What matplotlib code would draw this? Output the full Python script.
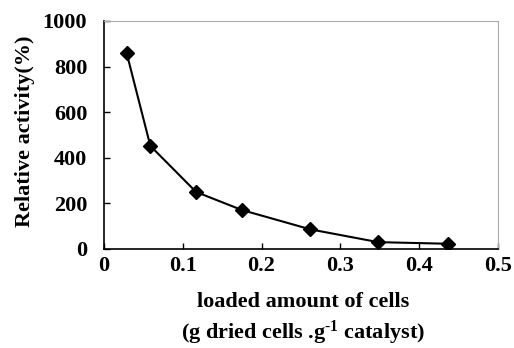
import matplotlib
matplotlib.use("Agg")
import matplotlib.pyplot as plt

loading = [0.029, 0.059, 0.117, 0.175, 0.262, 0.348, 0.436]
activity = [858, 452, 250, 171, 86, 30, 23]
xticks = [0, 0.1, 0.2, 0.3, 0.4, 0.5]
xticklabels = ["0", "0.1", "0.2", "0.3", "0.4", "0.5"]
yticks = [0, 200, 400, 600, 800, 1000]

plt.rcParams['font.family'] = ['Liberation Serif', 'DejaVu Serif']
plt.rcParams['font.weight'] = 'bold'
plt.rcParams['mathtext.fontset'] = 'custom'
plt.rcParams['mathtext.rm'] = 'Liberation Serif:bold'
plt.rcParams['mathtext.bf'] = 'Liberation Serif:bold'
plt.rcParams['mathtext.default'] = 'bf'

FS = 16
fig = plt.figure(figsize=(5.14, 3.48), dpi=100)
ax = fig.add_axes([0.202, 0.2845, 0.767, 0.6555])
ax.plot(loading, activity, color='black', lw=1.5, marker='D', markersize=7.5,
        markerfacecolor='black', markeredgecolor='black')
ax.set_xlim(0, 0.5)
ax.set_ylim(0, 1000)
ax.set_xticks(xticks)
ax.set_xticklabels(xticklabels)
ax.set_yticks(yticks)
ax.tick_params(axis='x', direction='in', length=4.5, width=1, labelsize=FS, pad=5, top=False)
ax.tick_params(axis='y', direction='in', length=4.5, width=1, labelsize=FS, pad=12, right=False)
for lab in ax.get_xticklabels() + ax.get_yticklabels():
    lab.set_fontweight('bold')
ax.spines['left'].set_color('black')
ax.spines['bottom'].set_color('black')
ax.spines['left'].set_linewidth(1.2)
ax.spines['bottom'].set_linewidth(1.2)
ax.spines['top'].set_color('#aaaaaa')
ax.spines['right'].set_color('#aaaaaa')
fig.text(0.049, 0.623, 'Relative activity(%)', rotation=90, ha='center', va='center',
         fontsize=FS, fontweight='bold')
fig.text(0.59, 0.132, 'loaded amount of cells', ha='center', va='center',
         fontsize=FS, fontweight='bold')
fig.text(0.59, 0.043, r'(g dried cells .g$^{\text{-1}}$ catalyst)', ha='center', va='center',
         fontsize=FS, fontweight='bold')
fig.savefig('out.png', dpi=100)
